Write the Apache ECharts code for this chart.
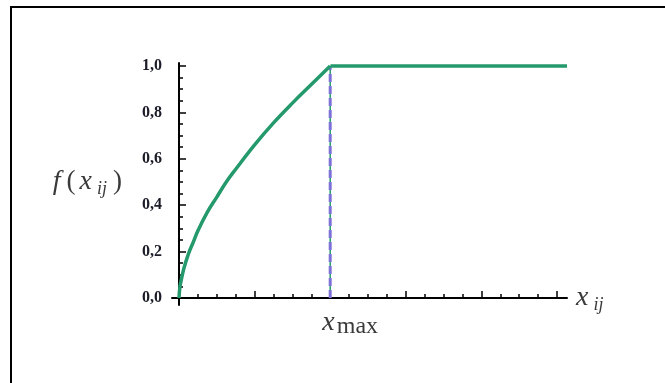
<!DOCTYPE html>
<html>
<head>
<meta charset="utf-8">
<script src="https://cdn.jsdelivr.net/npm/echarts@6/dist/echarts.min.js"></script>
<style>
  body { margin: 0; background: #fff; }
  #wrap { position: relative; width: 665px; height: 383px; }
  #chart { width: 665px; height: 383px; }
  #frame { position: absolute; left: 10px; top: 6px; right: 0; bottom: 0;
           border-left: 2px solid #000; border-top: 2px solid #000; pointer-events: none; }
</style>
</head>
<body>
<div id="wrap">
  <div id="chart"></div>
  <div id="frame"></div>
</div>
<script>
// x in tick units (one minor tick = 1), x_max sits at 8
const xMax = 8;
const xEnd = 20.5;
const curveX = [0, 0.05, 0.1, 0.25, 0.5, 0.75, 1, 1.5, 2, 2.5, 3, 4, 5, 6, 7, 8];
const curveY = [0, 0.05, 0.07, 0.125, 0.19, 0.24, 0.29, 0.37, 0.435, 0.5, 0.555, 0.66, 0.755, 0.84, 0.92, 1];
const flatX = [8, 20.5];
const flatY = [1, 1];
const dropX = [xMax, xMax];
const dropY = [0, 1];
const yTicks = [0, 0.2, 0.4, 0.6, 0.8, 1.0];

const green = '#23996c';
const purple = '#7d70d8';
const serif = '"Liberation Serif", "DejaVu Serif", serif';
const mathColor = '#3a3a3a';

const chart = echarts.init(document.getElementById('chart'));

const pairs = (xs, ys) => xs.map((x, i) => [x, ys[i]]);

let option = {
    animation: false,
    grid: [
        { left: 179, right: 108, top: 66, bottom: 85 },
        { left: 172, right: 98, top: 63, bottom: 78 }
    ],
    xAxis: [
        {
            type: 'value', gridIndex: 0, min: 0, max: 20, interval: 4,
            axisLine: { show: false },
            splitLine: { show: false },
            axisTick: { show: true, inside: true, length: 7, lineStyle: { color: '#000', width: 1.5 } },
            minorTick: { show: true, splitNumber: 4, length: 4, lineStyle: { color: '#000', width: 1.5 } },
            axisLabel: {
                margin: 8,
                padding: [0, 0, 0, 40],
                formatter: v => v === xMax ? '{x|x}{s|max}' : '',
                rich: {
                    x: { fontFamily: serif, fontStyle: 'italic', fontSize: 28, color: mathColor },
                    s: { fontFamily: serif, fontSize: 24, color: mathColor, padding: [9, 0, 0, 2] }
                }
            }
        },
        {
            type: 'value', gridIndex: 1, min: -0.37, max: xEnd,
            axisLine: { show: true, onZero: true, lineStyle: { color: '#000', width: 2 } },
            axisTick: { show: false }, axisLabel: { show: false }, splitLine: { show: false },
            name: '{x|x}{s|ij}',
            nameLocation: 'end',
            nameGap: 9,
            nameTextStyle: {
                rich: {
                    x: { fontFamily: serif, fontStyle: 'italic', fontSize: 28, color: mathColor },
                    s: { fontFamily: serif, fontStyle: 'italic', fontSize: 18, color: mathColor, padding: [14, 0, 0, 5] }
                }
            }
        }
    ],
    yAxis: [
        {
            type: 'value', gridIndex: 0, min: 0, max: 1, interval: 0.2,
            axisLine: { show: false },
            splitLine: { show: false },
            axisTick: { show: true, inside: true, length: 7, lineStyle: { color: '#000', width: 1.5 } },
            minorTick: { show: true, splitNumber: 4, length: 4, lineStyle: { color: '#000', width: 1.5 } },
            axisLabel: {
                margin: 17,
                fontFamily: serif,
                fontSize: 16,
                fontWeight: 'bold',
                color: '#1c1c28',
                formatter: v => yTicks.includes(Math.round(v * 10) / 10) ? v.toFixed(1).replace('.', ',') : ''
            },
            name: '{f|f}{p|(}{x|x}{s|ij}{p|)}',
            nameLocation: 'middle',
            nameRotate: 0,
            nameGap: 57,
            nameTextStyle: {
                rich: {
                    f: { fontFamily: serif, fontStyle: 'italic', fontSize: 28, color: mathColor, padding: [0, 6, 0, 0] },
                    p: { fontFamily: serif, fontSize: 27, color: mathColor },
                    x: { fontFamily: serif, fontStyle: 'italic', fontSize: 28, color: mathColor, padding: [0, 0, 0, 4] },
                    s: { fontFamily: serif, fontStyle: 'italic', fontSize: 18, color: mathColor, padding: [14, 6, 0, 5] }
                }
            }
        },
        {
            type: 'value', gridIndex: 1, min: -0.03, max: 1.013,
            axisLine: { show: true, onZero: true, lineStyle: { color: '#000', width: 2 } },
            axisTick: { show: false }, axisLabel: { show: false }, splitLine: { show: false }
        }
    ],
    series: [
        {
            type: 'line', xAxisIndex: 0, yAxisIndex: 0,
            data: pairs(dropX, dropY),
            showSymbol: false,
            lineStyle: { color: green, width: 1.5 },
            z: 3
        },
        {
            type: 'line', xAxisIndex: 0, yAxisIndex: 0,
            data: pairs(dropX, dropY),
            showSymbol: false,
            lineStyle: { color: purple, width: 3, type: [8, 4] },
            z: 4
        },
        {
            type: 'line', xAxisIndex: 0, yAxisIndex: 0,
            data: pairs(curveX, curveY),
            smooth: 0.4,
            showSymbol: false,
            lineStyle: { color: green, width: 3.5 },
            z: 5
        },
        {
            type: 'line', xAxisIndex: 1, yAxisIndex: 1,
            data: pairs(flatX, flatY),
            showSymbol: false,
            lineStyle: { color: green, width: 3.5 },
            z: 5
        }
    ]
};
chart.setOption(option);
</script>
</body>
</html>
